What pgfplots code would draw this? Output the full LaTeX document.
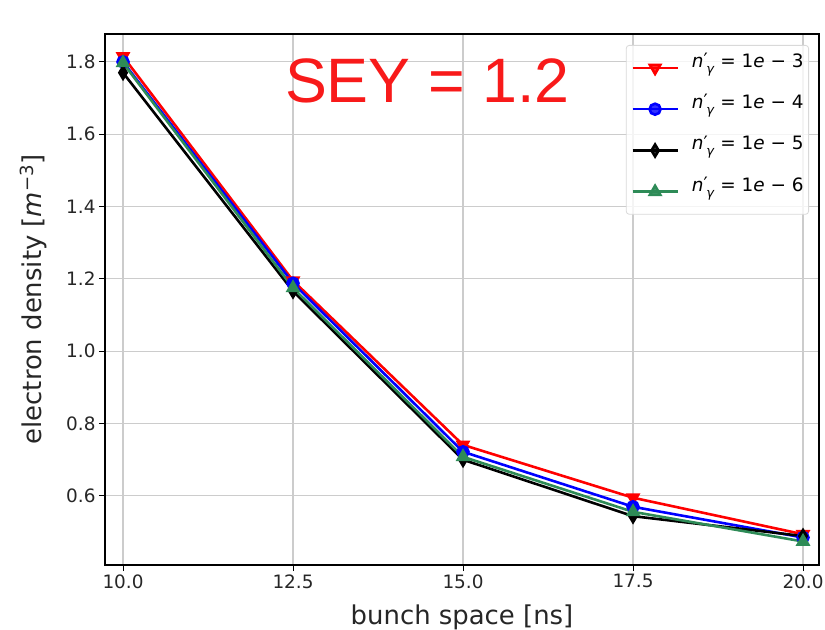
\documentclass[border=0pt]{standalone}
\usepackage{fontspec}
\setmainfont{DejaVu Sans}
\newfontfamily\arialfont{Liberation Sans}
\usepackage{pgfplots}
\pgfplotsset{compat=1.18}

\definecolor{seagreen}{HTML}{2E8B57}
\definecolor{gridgray}{HTML}{CCCCCC}
\definecolor{seyred}{HTML}{F81A1A}

% n'_gamma written with text glyphs so that it stays in DejaVu Sans
\newcommand{\ngamma}{\textit{n}\raisebox{0.05em}{′}\kern-0.08em\raisebox{-0.32em}{\fontsize{13}{13}\selectfont\textit{γ}}}
\newcommand{\legtxt}[1]{\ngamma\ =\ 1\textit{e}\ −\ #1}

\begin{document}
\begin{tikzpicture}
\begin{axis}[
  scale only axis,
  width=714bp, height=531bp,
  xmin=9.735, xmax=20.235,
  ymin=0.409, ymax=1.877,
  xtick={10,12.5,15,17.5,20},
  ytick={0.6,0.8,1.0,1.2,1.4,1.6,1.8},
  xtick pos=bottom, ytick pos=left,
  /pgf/number format/assume math mode=true,
  xticklabel style={/pgf/number format/.cd,fixed,fixed zerofill,precision=1},
  yticklabel style={/pgf/number format/.cd,fixed,fixed zerofill,precision=1},
  ticklabel style={font=\fontsize{18.5}{22}\selectfont, text=black!85},
  tick align=outside,
  major tick length=6bp,
  tick style={black, line width=1bp},
  axis line style={black, line width=1.1bp},
  grid=major,
  major grid style={gridgray, line width=1.1bp},
  xlabel={bunch space [ns]},
  ylabel={electron density [\textit{m}\textsuperscript{−3}]},
  every axis x label/.style={at={(rel axis cs:0.5,0)}, anchor=base, yshift=-59bp,
    font=\fontsize{26}{30}\selectfont, text=black!85},
  every axis y label/.style={at={(rel axis cs:0,0.5)}, rotate=90, anchor=base, yshift=63bp,
    font=\fontsize{26}{30}\selectfont, text=black!85},
  legend style={
    at={(rel axis cs:1,1)}, anchor=north east, xshift=-10bp, yshift=-11bp,
    draw=black!15, fill=white, fill opacity=0.8, text opacity=1,
    rounded corners=3bp, line width=0.8bp,
    font=\fontsize{18.5}{22}\selectfont,
    inner xsep=5bp, inner ysep=7bp,
    row sep=10.3bp, column sep=13bp,
    nodes={inner sep=0pt, anchor=west, text height=15bp, text depth=16bp},
  },
  legend cell align=left,
  legend image code/.code={
    \draw[mark repeat=2, mark phase=2, #1, line width=2.6bp] plot coordinates {(0bp,0bp) (22.5bp,0bp) (45bp,0bp)};
  },
  every axis plot/.append style={line width=2.6bp},
]

\addplot[red, mark=triangle*, mark size=6bp, mark options={solid, rotate=180, fill=red}]
  coordinates {(10,1.815) (12.5,1.195) (15,0.741) (17.5,0.595) (20,0.494)};
\addlegendentry{\legtxt{3}}

\addplot[blue, mark=*, mark size=5.5bp, mark options={solid, fill=blue}]
  coordinates {(10,1.800) (12.5,1.188) (15,0.722) (17.5,0.570) (20,0.485)};
\addlegendentry{\legtxt{4}}

\addplot[black, mark=diamond*, mark size=6bp, mark options={solid, xscale=0.8, fill=black}]
  coordinates {(10,1.770) (12.5,1.166) (15,0.700) (17.5,0.544) (20,0.489)};
\addlegendentry{\legtxt{5}}

\addplot[seagreen, mark=triangle*, mark size=6bp, mark options={solid, fill=seagreen}]
  coordinates {(10,1.797) (12.5,1.175) (15,0.708) (17.5,0.556) (20,0.474)};
\addlegendentry{\legtxt{6}}

% offset text of the y axis
\node[anchor=base west, inner sep=0pt, font=\fontsize{18.5}{22}\selectfont, text=black!85]
  at (rel axis cs:0,1) [xshift=2bp, yshift=8bp] {1e13};

\node[anchor=base west, inner sep=0pt, font=\arialfont\fontsize{63}{70}\selectfont, text=seyred]
  at (axis cs:12.38,1.687) {SEY = 1.2};
\end{axis}
\pgfresetboundingbox
\path ([shift={(-105bp,-65bp)}]current axis.south west) rectangle ([shift={(6bp,34bp)}]current axis.north east);
\end{tikzpicture}
\end{document}
